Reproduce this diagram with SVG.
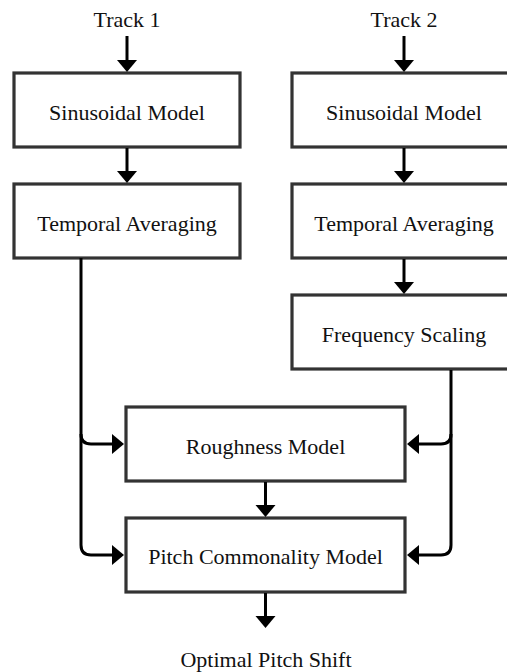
<svg xmlns="http://www.w3.org/2000/svg" width="507" height="672" viewBox="0 0 507 672">
  <style>
    .box { fill: #ffffff; stroke: #333333; stroke-width: 3.2; }
    .label { font-family: "Liberation Serif", "Times New Roman", serif; font-size: 22px; fill: #111111; text-anchor: middle; }
    .wire { fill: none; stroke: #000000; stroke-width: 3; marker-end: url(#head); }
  </style>
  <defs>
    <!-- arrowhead: 12 long, 20 wide; the wire ends 10px before the tip -->
    <marker id="head" markerUnits="userSpaceOnUse" markerWidth="13" markerHeight="21" refX="2" refY="10" orient="auto" overflow="visible">
      <path d="M0,0 L12,10 L0,20 Z" fill="#000000"/>
    </marker>
  </defs>
  <rect width="507" height="672" fill="#ffffff"/>

  <!-- inputs and output -->
  <text class="label" x="127" y="27">Track 1</text>
  <text class="label" x="404" y="27">Track 2</text>
  <text class="label" x="266" y="667">Optimal Pitch Shift</text>

  <g id="sin1">
    <rect class="box" x="14" y="73" width="226" height="74"/>
    <text class="label" x="127" y="120">Sinusoidal Model</text>
  </g>
  <g id="avg1">
    <rect class="box" x="14" y="184" width="226" height="74"/>
    <text class="label" x="127" y="231">Temporal Averaging</text>
  </g>
  <g id="sin2">
    <rect class="box" x="292" y="73" width="226" height="74"/>
    <text class="label" x="404" y="120">Sinusoidal Model</text>
  </g>
  <g id="avg2">
    <rect class="box" x="292" y="184" width="226" height="74"/>
    <text class="label" x="404" y="231">Temporal Averaging</text>
  </g>
  <g id="freq">
    <rect class="box" x="292" y="295" width="226" height="74"/>
    <text class="label" x="404" y="342">Frequency Scaling</text>
  </g>
  <g id="rough">
    <rect class="box" x="126" y="407" width="279" height="74"/>
    <text class="label" x="265.5" y="454">Roughness Model</text>
  </g>
  <g id="pitch">
    <rect class="box" x="126" y="518" width="279" height="74"/>
    <text class="label" x="265.5" y="564">Pitch Commonality Model</text>
  </g>

  <g id="connectors">
    <path class="wire" d="M127,36 V62"/>
    <path class="wire" d="M127,148 V173"/>
    <path class="wire" d="M404,36 V62"/>
    <path class="wire" d="M404,148 V173"/>
    <path class="wire" d="M404,259 V284"/>
    <path class="wire" d="M265.5,482 V507"/>
    <path class="wire" d="M265.5,593 V618"/>
    <!-- left bus from Track 1 averaging -->
    <path class="wire" d="M81,258 V545 Q81,555 91,555 H114"/>
    <path class="wire" d="M81,434 Q81,444 91,444 H114"/>
    <!-- right bus from frequency scaling -->
    <path class="wire" d="M451,370 V545 Q451,555 441,555 H417"/>
    <path class="wire" d="M451,434 Q451,444 441,444 H417"/>
  </g>
</svg>
